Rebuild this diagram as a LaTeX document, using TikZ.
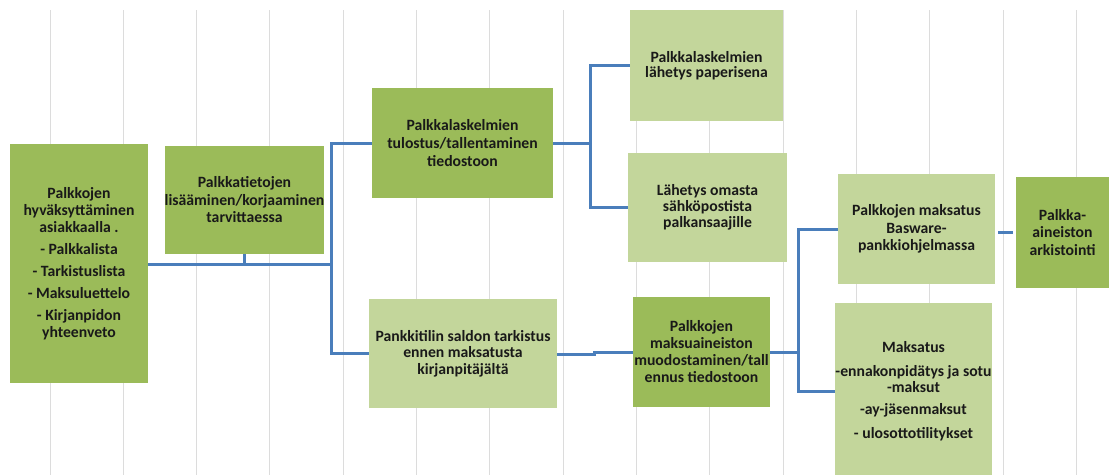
\documentclass[tikz,border=0pt]{standalone}
\usepackage{fontspec}
\setmainfont{Carlito}
\definecolor{dkgreen}{HTML}{9BBB59}
\definecolor{ltgreen}{HTML}{C3D69B}
\definecolor{linkblue}{HTML}{4A7EBB}
\definecolor{gridgray}{HTML}{DCDCDC}
\newcommand{\boxfont}[1]{\fontsize{15.7}{#1}\selectfont\bfseries}
\begin{document}
\begin{tikzpicture}[x=1pt,y=-1pt,
  box/.style={inner sep=0pt, align=center,
    font=\boxfont{17.5}, text=black!90},
  dark/.style={box, fill=dkgreen},
  light/.style={box, fill=ltgreen},
  link/.style={draw=linkblue, line width=3pt},
  gridln/.style={draw=gridgray, line width=1pt}]
\useasboundingbox (0,0) rectangle (1112,475);
\fill[white] (0,0) rectangle (1112,475);

% background column rules
\foreach \k in {0,...,14}
  \draw[gridln] ({50+73.33*\k},10) -- ({50+73.33*\k},475);

% process boxes
\node[dark, minimum width=138pt, minimum height=239pt, font=\boxfont{17}] (appr) at (79,263.5)
  {Palkkojen\\ hyväksyttäminen\\ asiakkaalla .\\[5pt] - Palkkalista\\[5pt]
   - Tarkistuslista\\[5pt] - Maksuluettelo\\[5pt] - Kirjanpidon\\ yhteenveto};
\node[dark, minimum width=157pt, minimum height=108pt] (edit) at (244.5,200)
  {Palkkatietojen\\ lisääminen/korjaaminen\\ tarvittaessa};
\node[dark, minimum width=181pt, minimum height=110pt, font=\boxfont{18}] (print) at (462.5,143)
  {Palkkalaskelmien\\ tulostus/tallentaminen\\ tiedostoon};
\node[light, minimum width=153pt, minimum height=111pt, font=\boxfont{15}] (paper) at (706.5,65.5)
  {Palkkalaskelmien\\ lähetys paperisena};
\node[light, minimum width=159pt, minimum height=109pt, font=\boxfont{16}] (mail) at (707.5,207.5)
  {Lähetys omasta\\ sähköpostista\\ palkansaajille};
\node[light, minimum width=188pt, minimum height=109pt, font=\boxfont{16.5}] (bank) at (463,353.5)
  {Pankkitilin saldon tarkistus\\ ennen maksatusta\\ kirjanpitäjältä};
\node[dark, minimum width=137pt, minimum height=110pt, font=\boxfont{17}] (file) at (701.5,352)
  {Palkkojen\\ maksuaineiston\\ muodostaminen/tall\\ ennus tiedostoon};
\node[light, minimum width=157pt, minimum height=110pt] (pay) at (916.5,229)
  {Palkkojen maksatus\\ Basware-\\ pankkiohjelmassa};
\node[light, minimum width=157pt, minimum height=172pt] (tax) at (913.5,389) {};
\node[box, font=\boxfont{16}] (taxtext) at (913.5,391)
  {Maksatus\\[8pt] -ennakonpidätys ja sotu\\ -maksut\\[6pt] -ay-jäsenmaksut\\[8pt]
   - ulosottotilitykset};
\node[dark, minimum width=93pt, minimum height=111pt] (arch) at (1062.5,232.5)
  {Palkka-\\ aineiston\\ arkistointi};

% connectors
\coordinate (j1) at (331,264);
\coordinate (j2) at (590,143);
\coordinate (j3) at (594,352);
\coordinate (j4) at (798,352);

\draw[link] (appr.east |- j1) -- (j1);
\draw[link] (edit.south) -- (edit.south |- j1);
\draw[link] (j1) |- (print.west);
\draw[link] (j1) |- (bank.west);

\draw[link] (print.east) -- (j2);
\draw[link] (j2) |- (paper.west);
\draw[link] (j2) |- (mail.west);

\draw[link] (bank.east |- 0,354) -- (j3 |- 0,354) -- (j3) -- (file.west);

\draw[link] (file.east) -- (j4);
\draw[link] (j4) |- (pay.west);
\draw[link] (j4) |- (tax.west |- 0,391);

\draw[link, shorten <=3pt, shorten >=3pt] (pay.east |- arch.west) -- (arch.west);
\end{tikzpicture}
\end{document}
